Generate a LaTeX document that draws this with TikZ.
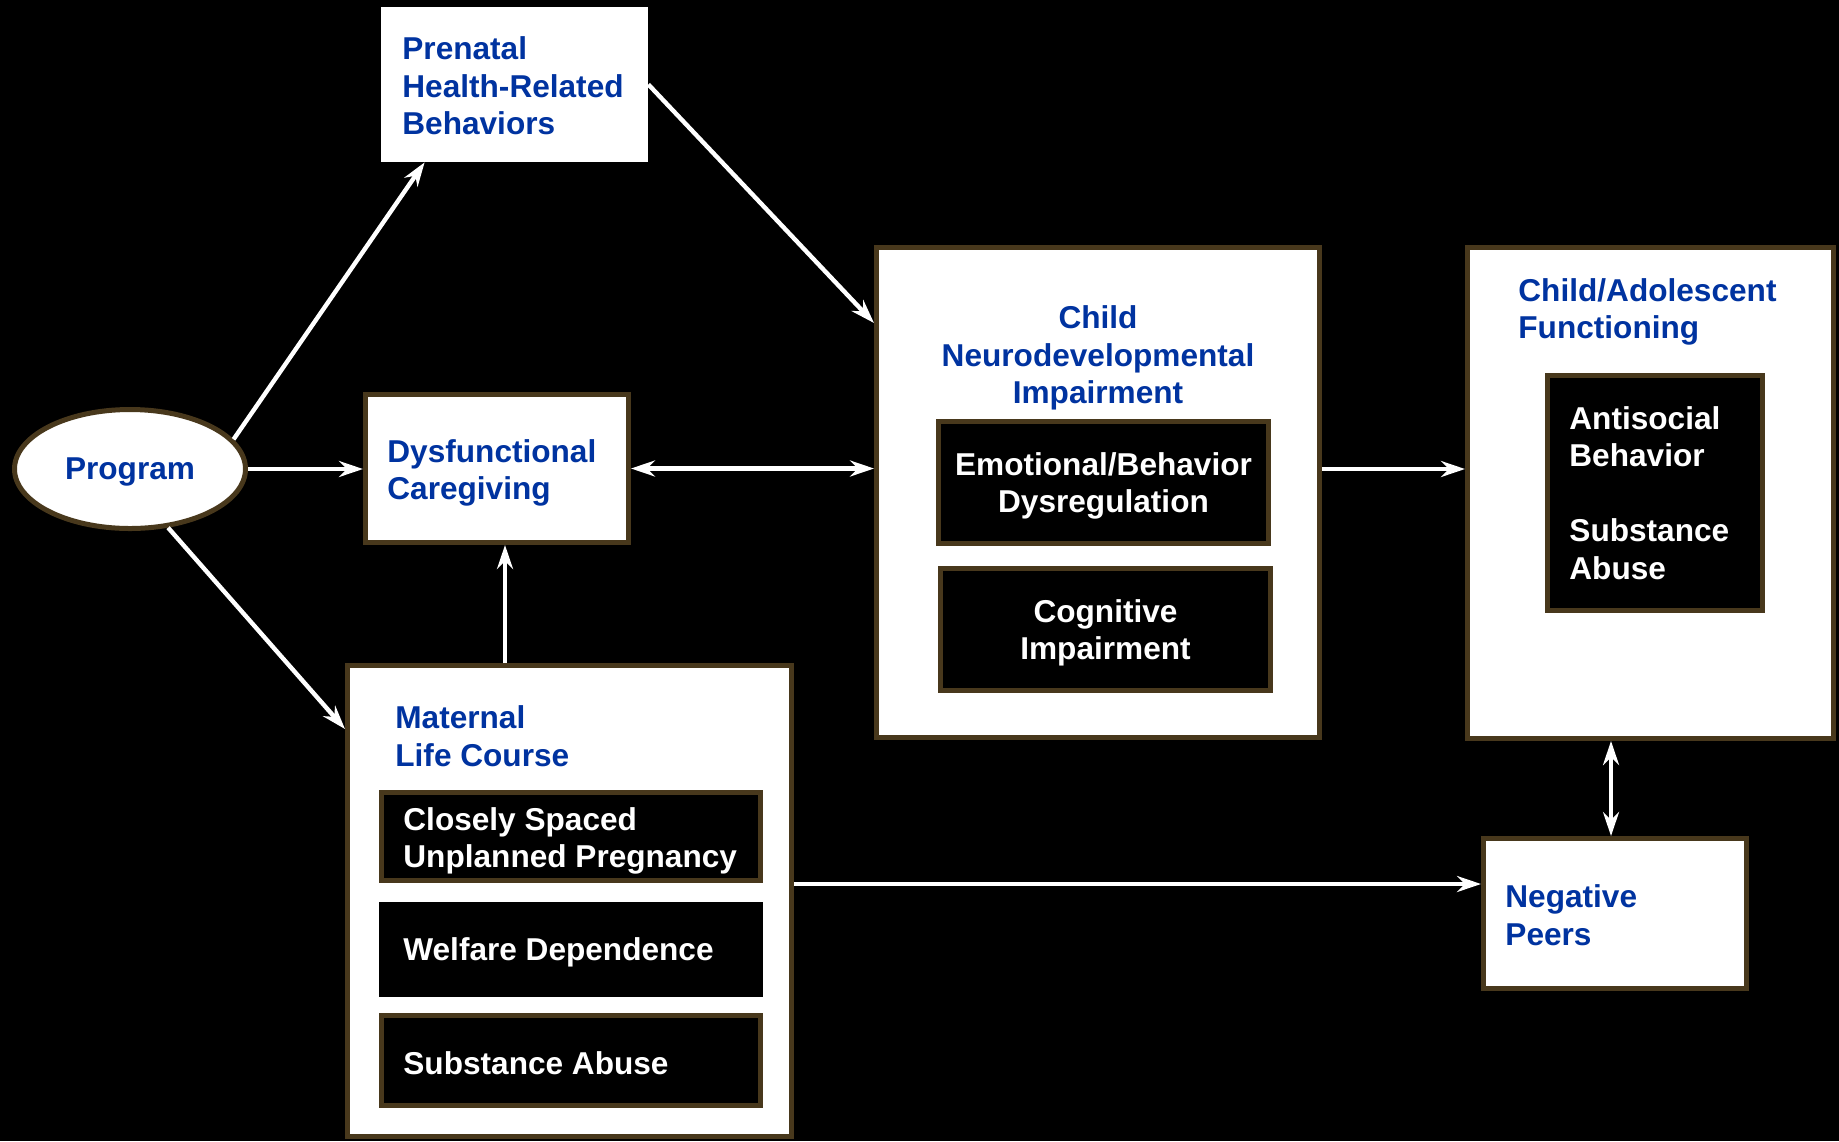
\documentclass[tikz,border=0pt]{standalone}
\usepackage{fontspec}
\setmainfont{Liberation Sans}
\usetikzlibrary{shapes,arrows.meta,positioning}

\definecolor{titleblue}{RGB}{0,51,160}
\definecolor{boxbrown}{RGB}{72,56,28}
\newcommand{\boxfont}{\fontsize{15.8}{18.75}\selectfont\bfseries}

\begin{document}
\begin{tikzpicture}[
                x=0.5pt, y=-0.5pt,
                outerbox/.style={
                        rectangle,
                        draw=boxbrown,
                        line width=2.5pt,
                        fill=white,
                        inner sep=0pt
                    },
                plainbox/.style={rectangle, fill=white, inner sep=0pt},
                innerbox/.style={
                        rectangle,
                        draw=boxbrown,
                        line width=2.5pt,
                        fill=black,
                        text=white,
                        font=\boxfont,
                        align=center,
                        text depth=0pt,
                        inner sep=0pt
                    },
                title/.style={font=\boxfont, text=titleblue, align=left, anchor=west, inner sep=0pt},
                item/.style={font=\boxfont, text=white, align=left, anchor=west, inner sep=0pt},
                arr/.style={draw=white, line width=2.2pt, -{Stealth[length=12pt,width=8pt]}},
                darr/.style={draw=white, line width=2.2pt, {Stealth[length=12pt,width=8pt]}-{Stealth[length=12pt,width=8pt]}}
            ]

            % fundo
            \fill[black] (0,0) rectangle (1839,1141);
            \useasboundingbox (0,0) rectangle (1839,1141);

            % caixas principais posicionadas manualmente
            \node[outerbox, ellipse, minimum width=115.5pt, minimum height=59.5pt,
                  font=\boxfont, text=titleblue, text depth=0pt] (program) at (130,469) {Program};
            \node[plainbox, minimum width=133.5pt, minimum height=77.5pt] (prenatal) at (514.5,84.5) {};
            \node[outerbox, minimum width=131.5pt, minimum height=74pt] (dysf) at (497,468.5) {};
            \node[outerbox, minimum width=221.5pt, minimum height=245pt] (neuro) at (1098,492.5) {};
            \node[outerbox, minimum width=183pt, minimum height=245.5pt] (adol) at (1650.5,493) {};
            \node[outerbox, minimum width=131.5pt, minimum height=75pt] (peers) at (1615,913.5) {};
            \node[outerbox, minimum width=222pt, minimum height=235.5pt] (maternal) at (569.5,901) {};

            % caixas internas
            \node[innerbox, minimum width=165pt, minimum height=61pt] (emotion) at (1103.5,482.5) {Emotional/Behavior\\Dysregulation};
            \node[innerbox, minimum width=165pt, minimum height=61pt] (cognitive) at (1105.5,629.5) {Cognitive\\Impairment};
            \node[innerbox, minimum width=107.5pt, minimum height=117.5pt] (antisocial) at (1655,493) {};
            \node[innerbox, minimum width=189.5pt, minimum height=44pt] (spaced) at (571,836.5) {};
            \node[innerbox, draw=none, minimum width=192pt, minimum height=47.5pt] (welfare) at (571,949.5) {};
            \node[innerbox, minimum width=189.5pt, minimum height=45pt] (subst) at (571,1060.5) {};

            % textos
            \node[title] (prenataltxt) at (402,86) {Prenatal\\Health-Related\\Behaviors};
            \node[title] (dysftxt) at (387,473) {Dysfunctional\\Caregiving};
            \node[title, align=center, anchor=center] (neurotxt) at (1098,358) {Child\\Neurodevelopmental\\Impairment};
            \node[title] (adoltxt) at (1518,312) {Child/Adolescent\\Functioning};
            \node[title] (peerstxt) at (1505,915) {Negative\\Peers};
            \node[title] (maternaltxt) at (395,736) {Maternal\\Life Course};
            \node[item] (antisocialtxt) at (1569,493) {Antisocial\\Behavior\\[18.75pt]Substance\\Abuse};
            \node[item] (spacedtxt) at (403,841) {Closely Spaced\\Unplanned Pregnancy};
            \node[item] (welfaretxt) at (403,952) {Welfare Dependence};
            \node[item] (substtxt) at (403,1063) {Substance Abuse};

            % setas
            \draw[arr] (program.16) -- ([xshift=22pt]prenatal.south west);
            \draw[arr] (program.east) -- (program.east -| dysf.west);
            \draw[arr] (program.-57) -- ([yshift=86pt]maternal.west);
            \draw[arr] (prenatal.east) -- ([yshift=84.75pt]neuro.west);
            \draw[darr] (dysf.east) -- (dysf.east -| neuro.west);
            \draw[arr] ([xshift=4pt]dysf.south |- maternal.north) -- ([xshift=4pt]dysf.south);
            \draw[arr] (neuro.east |- program.east) -- (adol.west |- program.east);
            \draw[darr] ([xshift=-2pt]peers.north |- adol.south) -- ([xshift=-2pt]peers.north);
            \draw[arr] ([yshift=8.5pt]maternal.east) -- ([yshift=8.5pt]maternal.east -| peers.west);

        \end{tikzpicture}
\end{document}
